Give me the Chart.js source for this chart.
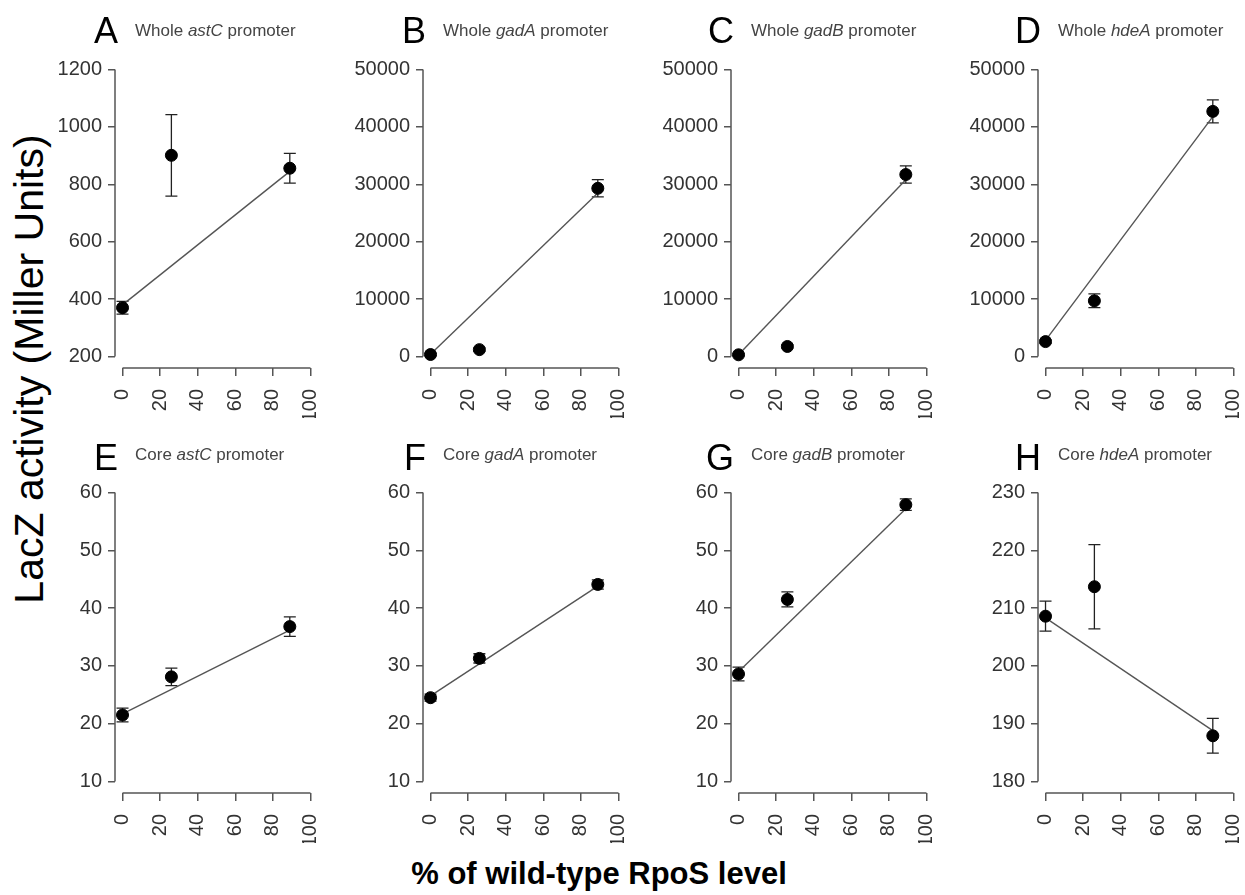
<!DOCTYPE html>
<html>
<head>
<meta charset="utf-8">
<script src="https://cdn.jsdelivr.net/npm/chart.js@4.4.0/dist/chart.umd.min.js"></script>
<style>
  body { margin: 0; background: #fff; width: 1245px; height: 895px; position: relative; overflow: hidden;
         font-family: 'Liberation Sans', Arial, sans-serif; }
  canvas { position: absolute; }
  #yTitle { position: absolute; left: -271px; top: 344px; width: 600px; height: 50px; line-height: 50px;
            text-align: center; font-size: 41px; color: #000; transform: rotate(-90deg); white-space: nowrap; }
  #xTitle { position: absolute; left: 299px; top: 854px; width: 600px; height: 40px; line-height: 40px;
            text-align: center; font-size: 31px; font-weight: bold; color: #000; white-space: nowrap; }
</style>
</head>
<body>
<div id="yTitle">LacZ activity (Miller Units)</div>
<div id="xTitle">% of wild-type RpoS level</div>
<script>
// --- data ---
const rposLevel = [0, 26, 89];               // % of wild-type RpoS
const xTickValues = [0, 20, 40, 60, 80, 100];
const panelLetters = ['A', 'B', 'C', 'D', 'E', 'F', 'G', 'H'];
const promoterKind = ['Whole', 'Whole', 'Whole', 'Whole', 'Core', 'Core', 'Core', 'Core'];
const geneNames = ['astC', 'gadA', 'gadB', 'hdeA', 'astC', 'gadA', 'gadB', 'hdeA'];

const yTickMin  = [200, 0, 0, 0, 10, 10, 10, 180];
const yTickMax  = [1200, 50000, 50000, 50000, 60, 60, 60, 230];
const yTickStep = [200, 10000, 10000, 10000, 10, 10, 10, 10];

const lacZMean = [
  [370, 901, 856],
  [350, 1200, 29300],
  [300, 1750, 31700],
  [2600, 9700, 42700],
  [21.5, 28.1, 36.8],
  [24.5, 31.3, 44.1],
  [28.6, 41.5, 57.9],
  [208.6, 213.7, 187.9]
];
const lacZErr = [
  [22, 142, 52],
  [200, 300, 1500],
  [200, 300, 1500],
  [300, 1200, 2000],
  [1.2, 1.5, 1.7],
  [0.6, 0.8, 0.8],
  [1.2, 1.3, 1.0],
  [2.6, 7.3, 3.0]
];
// regression line, value at 0% and at 89%
const fitX = [0, 89];
const fitStart = [380, 400, 300, 2800, 21.7, 24.8, 29.0, 208.3];
const fitEnd   = [845, 28500, 30800, 41800, 36.2, 43.8, 57.2, 188.8];

// --- layout ---
const colAxisX = [115, 423, 731, 1038];
const rowCanvasTop = [0, 420];
const rowCanvasH = [420, 425];
const rowTop = [58, 481];
const rowBottom = [368, 793];
const yAxisW = 95, areaW = 203, rightPad = 22, xAxisH = 50;
const FONT = "'Liberation Sans', Arial, sans-serif";

// R style axes: line only from first to last tick, plus error bars and panel titles
const panelDecor = {
  id: 'panelDecor',
  beforeDatasetsDraw(chart, args, opts) {
    const ctx = chart.ctx, xs = chart.scales.x, ys = chart.scales.y;
    ctx.save();
    ctx.strokeStyle = '#222';
    ctx.lineWidth = 1.3;
    opts.mean.forEach((m, k) => {
      const px = xs.getPixelForValue(rposLevel[k]);
      const top = ys.getPixelForValue(m + opts.err[k]);
      const bot = ys.getPixelForValue(m - opts.err[k]);
      ctx.beginPath();
      ctx.moveTo(px, top); ctx.lineTo(px, bot);
      ctx.moveTo(px - 6, top); ctx.lineTo(px + 6, top);
      ctx.moveTo(px - 6, bot); ctx.lineTo(px + 6, bot);
      ctx.stroke();
    });
    ctx.restore();
  },
  afterDraw(chart, args, opts) {
    const ctx = chart.ctx, xs = chart.scales.x, ys = chart.scales.y;
    const area = chart.chartArea;
    ctx.save();
    ctx.strokeStyle = '#555';
    ctx.lineWidth = 1.5;
    ctx.beginPath();
    ctx.moveTo(area.left, ys.getPixelForValue(opts.lo));
    ctx.lineTo(area.left, ys.getPixelForValue(opts.hi));
    ctx.moveTo(xs.getPixelForValue(xTickValues[0]), area.bottom);
    ctx.lineTo(xs.getPixelForValue(xTickValues[xTickValues.length - 1]), area.bottom);
    ctx.stroke();

    // panel letter + subtitle
    ctx.fillStyle = '#000';
    ctx.textBaseline = 'alphabetic';
    ctx.textAlign = 'right';
    ctx.font = '36px ' + FONT;
    ctx.fillText(opts.letter, area.left + 3, opts.letterY);
    ctx.textAlign = 'left';
    ctx.fillStyle = '#444';
    let x = area.left + 20;
    const parts = [[opts.kind + ' ', ''], [opts.gene, 'italic '], [' promoter', '']];
    parts.forEach(([txt, style]) => {
      ctx.font = style + '17px ' + FONT;
      ctx.fillText(txt, x, opts.subY);
      x += ctx.measureText(txt).width;
    });
    ctx.restore();
  }
};

for (let i = 0; i < 8; i++) {
  const col = i % 4, row = Math.floor(i / 4);
  const canvas = document.createElement('canvas');
  canvas.width = yAxisW + areaW + rightPad;
  canvas.height = rowCanvasH[row];
  canvas.style.left = (colAxisX[col] - yAxisW) + 'px';
  canvas.style.top = rowCanvasTop[row] + 'px';
  document.body.appendChild(canvas);

  const lo = yTickMin[i], hi = yTickMax[i], ext = 0.04 * (hi - lo);
  const yTicks = [];
  for (let v = lo; v <= hi + 1e-9; v += yTickStep[i]) yTicks.push(v);

  new Chart(canvas, {
    type: 'scatter',
    data: {
      datasets: [
        {
          data: fitX.map((x, k) => ({ x: x, y: k === 0 ? fitStart[i] : fitEnd[i] })),
          showLine: true,
          borderColor: '#555',
          borderWidth: 1.4,
          pointRadius: 0,
          order: 2
        },
        {
          data: rposLevel.map((x, k) => ({ x: x, y: lacZMean[i][k] })),
          backgroundColor: '#000',
          borderColor: '#000',
          pointRadius: 6,
          order: 1
        }
      ]
    },
    options: {
      responsive: false,
      animation: false,
      layout: {
        padding: {
          left: 0, right: rightPad,
          top: rowTop[row] - rowCanvasTop[row],
          bottom: rowCanvasH[row] - xAxisH - (rowBottom[row] - rowCanvasTop[row])
        }
      },
      plugins: {
        legend: { display: false },
        tooltip: { enabled: false },
        panelDecor: {
          mean: lacZMean[i], err: lacZErr[i], lo: lo, hi: hi,
          letter: panelLetters[i], kind: promoterKind[i], gene: geneNames[i],
          letterY: row === 0 ? 43 : 50, subY: row === 0 ? 36 : 40
        }
      },
      scales: {
        x: {
          type: 'linear',
          min: -4, max: 104,
          afterBuildTicks: s => { s.ticks = xTickValues.map(v => ({ value: v })); },
          afterFit: s => { s.height = xAxisH; s.paddingLeft = 0; s.paddingRight = 0; },
          border: { display: false },
          grid: { drawOnChartArea: false, drawTicks: true, tickLength: 8, color: '#555', lineWidth: 1.5 },
          ticks: { minRotation: 90, maxRotation: 90, padding: 13, color: '#333',
                   font: { family: FONT, size: 20 }, callback: v => String(v) }
        },
        y: {
          type: 'linear',
          min: lo - ext, max: hi + ext,
          afterBuildTicks: s => { s.ticks = yTicks.map(v => ({ value: v })); },
          afterFit: s => { s.width = yAxisW; s.paddingTop = 0; s.paddingBottom = 0; },
          border: { display: false },
          grid: { drawOnChartArea: false, drawTicks: true, tickLength: 7, color: '#555', lineWidth: 1.5 },
          ticks: { padding: 6, color: '#333', font: { family: FONT, size: 20 }, callback: v => String(v) }
        }
      }
    },
    plugins: [panelDecor]
  });
}
</script>
</body>
</html>
